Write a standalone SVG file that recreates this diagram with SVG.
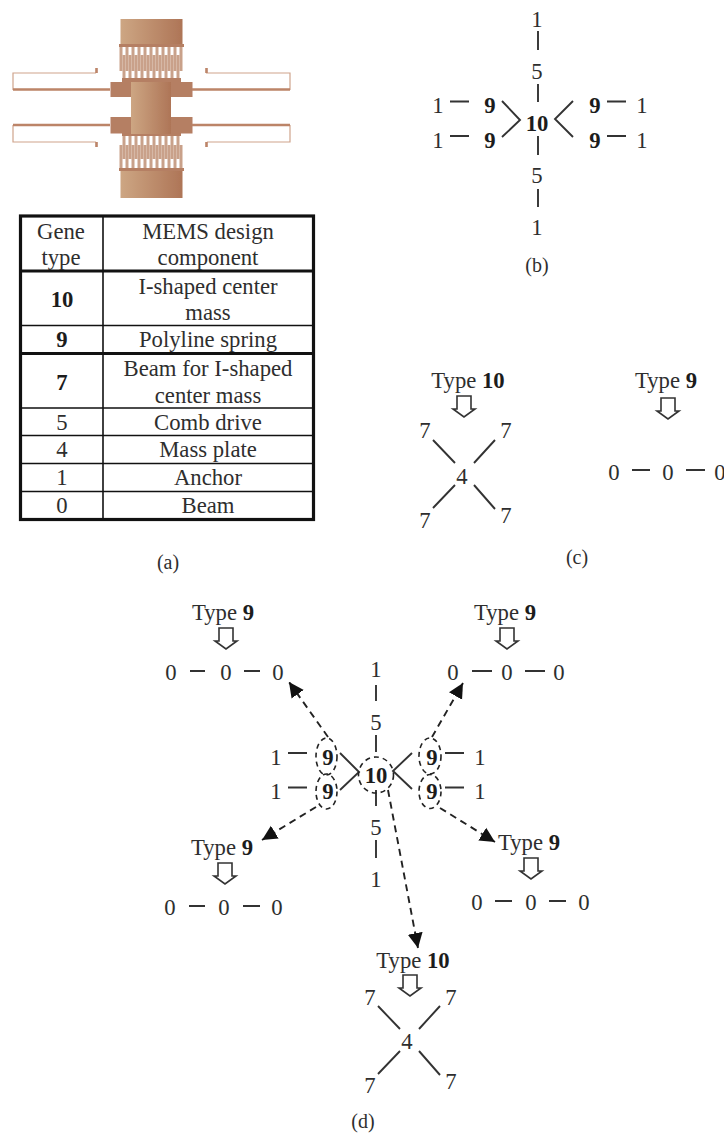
<svg xmlns="http://www.w3.org/2000/svg" xmlns:xlink="http://www.w3.org/1999/xlink" width="724" height="1138" viewBox="0 0 724 1138">
<style>
text{font-family:"Liberation Serif","Times New Roman",serif;font-size:22.700px;fill:#2e2e2e;text-anchor:middle}
.b{font-weight:bold;fill:#1c1c1c}
.cap{font-size:20px}
.l{stroke:#333;stroke-width:1.900;fill:none}
.d{stroke:#222;stroke-width:1.900;fill:none;stroke-dasharray:7 5;marker-end:url(#ah)}
.e{stroke:#222;stroke-width:1.600;fill:none;stroke-dasharray:5 4}
.ha{fill:#fff;stroke:#333;stroke-width:1.600}
.t{stroke:#111;stroke-width:1.600;fill:none}
.T{stroke:#111;stroke-width:3.200;fill:none}
.sp{stroke:#cfa48c;stroke-width:1.200;fill:none}
.spt{stroke:#bc8468;stroke-width:2.600;fill:none}
.tooth{stroke:#c9a18a;stroke-width:3;fill:none}
.br{fill:#b57f63}
</style>
<defs>
<filter id="soft" x="-5%" y="-5%" width="110%" height="110%"><feGaussianBlur stdDeviation="0.500"/></filter>
<linearGradient id="g" x1="0" x2="1" y1="0" y2="0"><stop offset="0" stop-color="#cda683"/><stop offset="1" stop-color="#ae7557"/></linearGradient>
<marker id="ah" markerUnits="userSpaceOnUse" markerWidth="16" markerHeight="16" refX="15" refY="8" orient="auto"><path d="M0 0.500L15 8L0 15.500Z" fill="#111"/></marker>
<path id="hollow" class="ha" d="M-7 0H7V13H11L0 21L-11 13H-7Z"/>
<g id="x7"><path class="l" d="M-29 -22L-7 1M33 -22L12 1M-7 23L-29 46M12 23L33 47"/></g>
</defs>

<g id="mems" filter="url(#soft)">
<rect x="120.500" y="19" width="62" height="25" fill="url(#g)"/>
<rect x="120.500" y="171" width="62" height="27" fill="url(#g)"/>
<path class="tooth" d="M121 47V71M127 47V71M133 47V71M139 47V71M145 47V71M151 47V71M157 47V71M163 47V71M169 47V71M175 47V71M181 47V71"/>
<path class="tooth" d="M124 79V55M130 79V55M136 79V55M142 79V55M148 79V55M154 79V55M160 79V55M166 79V55M172 79V55M178 79V55"/>
<path class="tooth" d="M121 169V145M127 169V145M133 169V145M139 169V145M145 169V145M151 169V145M157 169V145M163 169V145M169 169V145M175 169V145M181 169V145"/>
<path class="tooth" d="M124 135V159M130 135V159M136 135V159M142 135V159M148 135V159M154 135V159M160 135V159M166 135V159M172 135V159M178 135V159"/>
<rect class="br" x="119" y="44" width="65" height="3"/>
<rect class="br" x="119" y="168" width="65" height="3"/>
<rect class="br" x="122" y="78" width="59" height="4"/>
<rect class="br" x="122" y="133" width="59" height="3"/>
<rect class="br" x="110.500" y="82" width="82" height="15"/>
<rect class="br" x="110.500" y="117" width="82" height="16.500"/>
<rect x="131" y="82" width="40" height="52" fill="url(#g)"/>
<path class="sp" d="M96 73H13V90M206 73H290V90M13 125V142H96M290 125V142H207"/>
<path class="spt" d="M13 89.500H110M192 89.500H290M13 125H110M192 125H290M96.500 68V73M206.500 68V73M96.500 142V147M206.500 142V147"/>
</g>

<g id="table-a">
<rect class="T" x="20.500" y="216" width="293" height="303.500"/>
<path class="t" d="M103 216V519"/>
<path class="T" d="M20 271H313M20 353.500H313"/>
<path class="t" d="M20 325.500H313M20 408H313M20 435.500H313M20 463.500H313M20 491.500H313"/>
<text x="61" y="239">Gene</text><text x="61" y="265">type</text>
<text x="208" y="239">MEMS design</text><text x="208" y="265">component</text>
<text class="b" x="62" y="307">10</text>
<text x="208" y="294">I-shaped center</text><text x="208" y="320">mass</text>
<text class="b" x="62" y="347">9</text><text x="208" y="347">Polyline spring</text>
<text class="b" x="62" y="390">7</text>
<text x="208" y="376">Beam for I-shaped</text><text x="208" y="403">center mass</text>
<text x="62" y="430">5</text><text x="208" y="430">Comb drive</text>
<text x="62" y="457">4</text><text x="208" y="457">Mass plate</text>
<text x="62" y="485">1</text><text x="208" y="485">Anchor</text>
<text x="62" y="513">0</text><text x="208" y="513">Beam</text>
</g>
<text class="cap" x="168" y="569">(a)</text>

<g id="graph-b">
<text x="537" y="27">1</text><text x="537" y="79">5</text><text class="b" x="537" y="131">10</text><text x="537" y="183">5</text><text x="537" y="235">1</text>
<text x="438" y="113">1</text><text x="438" y="148">1</text><text class="b" x="490" y="113">9</text><text class="b" x="490" y="148">9</text>
<text class="b" x="595" y="113">9</text><text class="b" x="595" y="148">9</text><text x="642" y="113">1</text><text x="642" y="148">1</text>
<path class="l" d="M538 31V50M538 84V102M538 136V155M538 189V207M450 101.500H469M450 136H469M607 101.500H626M607 136H626M502 101L520 120L502 137M573 101L555 119L573 137"/>
</g>
<text class="cap" x="537" y="272">(b)</text>

<g id="type10-c">
<text x="468" y="388">Type <tspan class="b">10</tspan></text>
<use xlink:href="#hollow" href="#hollow" x="464" y="396"/>
<text x="425" y="438">7</text><text x="506" y="438">7</text><text x="462" y="484">4</text><text x="425" y="528">7</text><text x="506" y="523">7</text>
<use xlink:href="#x7" href="#x7" x="462" y="462"/>
</g>
<g id="type9-c">
<text x="666" y="388">Type <tspan class="b">9</tspan></text>
<use xlink:href="#hollow" href="#hollow" x="668" y="398"/>
<text x="614" y="480">0</text><text x="668" y="480">0</text><text x="720" y="480">0</text>
<path class="l" d="M632 470H650M686 470H705"/>
</g>
<text class="cap" x="577" y="564">(c)</text>

<g id="graph-d">
<text x="376" y="677">1</text><text x="376" y="730">5</text><text class="b" x="376" y="783">10</text><text x="376" y="835">5</text><text x="376" y="887">1</text>
<text x="276" y="765">1</text><text x="276" y="799">1</text><text class="b" x="328" y="765">9</text><text class="b" x="328" y="799">9</text>
<text class="b" x="432" y="765">9</text><text class="b" x="432" y="799">9</text><text x="480" y="765">1</text><text x="480" y="799">1</text>
<path class="l" d="M376 685V701M376 735V752M376 790V806M376 840V858M288 753H307M288 787.500H307M445 753H464M445 787.500H464M340 753L359 772L340 790M412 753L393 771L412 789"/>
<ellipse class="e" cx="376" cy="775" rx="17.500" ry="18"/>
<ellipse class="e" cx="326.500" cy="756.500" rx="10.500" ry="18.500"/>
<ellipse class="e" cx="326.500" cy="791.500" rx="10.500" ry="17.500"/>
<ellipse class="e" cx="430" cy="756" rx="11" ry="18"/>
<ellipse class="e" cx="430" cy="791.500" rx="11" ry="17"/>
</g>

<g id="connectors">
<path class="d" d="M328 737L289 682"/>
<path class="d" d="M432 737L463 683"/>
<path class="d" d="M316 807L262 840"/>
<path class="d" d="M440 808L495 842"/>
<path class="d" d="M388 790L418 948"/>
</g>

<g id="type9-d1">
<text x="223" y="620">Type <tspan class="b">9</tspan></text>
<use xlink:href="#hollow" href="#hollow" x="226" y="628"/>
<text x="171" y="680">0</text><text x="226" y="680">0</text><text x="278" y="680">0</text>
<path class="l" d="M190 671H205M244 671H260"/>
</g>
<g id="type9-d2">
<text x="505" y="620">Type <tspan class="b">9</tspan></text>
<use xlink:href="#hollow" href="#hollow" x="507" y="628"/>
<text x="453" y="680">0</text><text x="507" y="680">0</text><text x="559" y="680">0</text>
<path class="l" d="M472 671H492M525 671H545"/>
</g>
<g id="type9-d3">
<text x="222" y="855">Type <tspan class="b">9</tspan></text>
<use xlink:href="#hollow" href="#hollow" x="225" y="863"/>
<text x="170" y="915">0</text><text x="224" y="915">0</text><text x="277" y="915">0</text>
<path class="l" d="M189 906H205M243 906H260"/>
</g>
<g id="type9-d4">
<text x="529" y="850">Type <tspan class="b">9</tspan></text>
<use xlink:href="#hollow" href="#hollow" x="531" y="858"/>
<text x="477" y="910">0</text><text x="531" y="910">0</text><text x="584" y="910">0</text>
<path class="l" d="M495 901H512M549 901H566"/>
</g>
<g id="type10-d">
<text x="413" y="968">Type <tspan class="b">10</tspan></text>
<use xlink:href="#hollow" href="#hollow" x="410" y="975"/>
<text x="370" y="1005">7</text><text x="451" y="1005">7</text><text x="407" y="1049">4</text><text x="370" y="1093">7</text><text x="451" y="1089">7</text>
<use xlink:href="#x7" href="#x7" x="407" y="1028"/>
</g>
<text class="cap" x="363" y="1128">(d)</text>
</svg>
